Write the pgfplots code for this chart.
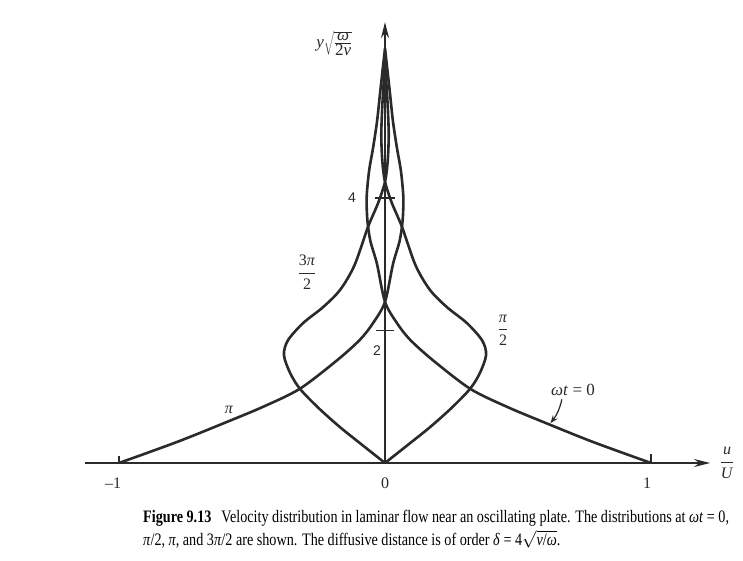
\documentclass[border=0pt]{standalone}
\usepackage{fontspec}
\setmainfont{Liberation Serif}
\newfontfamily\capfont{Liberation Serif}[FakeStretch=0.81]
\newfontfamily\labelsans{Liberation Sans}
\usepackage{pgfplots}
\pgfplotsset{compat=1.18}
\usetikzlibrary{arrows.meta}
\definecolor{ink}{HTML}{2A2A2A}

% Velocity profiles u/U of the flow near an oscillating plate
\pgfplotstableread{
x      y
1.000  0.00
0.780  0.32
0.594  0.62
0.457  0.85
0.320  1.12
0.180  1.55
0.094  1.86
0.045  2.11
0.000  2.43
-0.030 3.00
-0.055 3.35
-0.066 3.65
-0.069 4.00
-0.060 4.40
-0.045 4.75
-0.030 5.15
-0.018 5.60
-0.007 6.00
0.000  6.25
}\profzero
\pgfplotstableread{
x      y
-1.000 0.00
-0.780 0.32
-0.594 0.62
-0.457 0.85
-0.320 1.12
-0.180 1.55
-0.094 1.86
-0.045 2.11
0.000  2.43
0.030  3.00
0.055  3.35
0.066  3.65
0.069  4.00
0.060  4.40
0.045  4.75
0.030  5.15
0.018  5.60
0.007  6.00
0.000  6.25
}\profpi
\pgfplotstableread{
x      y
0.000  0.00
0.085  0.27
0.169  0.54
0.250  0.83
0.320  1.12
0.357  1.36
0.380  1.63
0.365  1.85
0.308  2.11
0.233  2.35
0.169  2.61
0.115  2.98
0.064  3.56
0.026  3.92
0.000  4.24
-0.010 4.55
-0.014 4.95
-0.010 5.40
-0.004 5.80
0.000  6.10
}\profhalfpi
\pgfplotstableread{
x      y
0.000  0.00
-0.085 0.27
-0.169 0.54
-0.250 0.83
-0.320 1.12
-0.357 1.36
-0.380 1.63
-0.365 1.85
-0.308 2.11
-0.233 2.35
-0.169 2.61
-0.115 2.98
-0.064 3.56
-0.026 3.92
0.000  4.24
0.010  4.55
0.014  4.95
0.010  5.40
0.004  5.80
0.000  6.10
}\profthreehalfpi

\begin{document}
\begin{tikzpicture}[x=1pt,y=1pt]
\useasboundingbox (0,0) rectangle (743,561);
\clip (0,0) rectangle (743,561);
\fill[white] (0,0) rectangle (743,561);
\begin{axis}[
  anchor=origin, at={(385pt,98pt)},
  x=266pt, y=66.3pt,
  xmin=-1.128, xmax=1.222, ymin=0, ymax=6.65,
  axis lines=middle,
  axis line style={ink, line width=1.8pt, -{Stealth[length=16pt,width=8pt]}},
  ticks=none,
  clip=false,
  profile/.style={ink, line width=2.6pt, smooth, no markers, line join=round},
]
\addplot[profile] table[x=x,y=y] {\profzero};
\addplot[profile] table[x=x,y=y] {\profpi};
\addplot[profile] table[x=x,y=y] {\profhalfpi};
\addplot[profile] table[x=x,y=y] {\profthreehalfpi};

% tick marks
\draw[ink, line width=1.6pt] (axis cs:-1,0) -- ++(0pt,7pt);
\draw[ink, line width=1.6pt] (axis cs:1,0) -- ++(0pt,9pt);
\draw[ink, line width=1.6pt] (axis cs:0,2) ++(-9pt,0pt) -- ++(18pt,0pt);
\draw[ink, line width=1.6pt] (axis cs:0,4) ++(-10pt,0pt) -- ++(20pt,0pt);

% tick labels
\node[font=\fontsize{16}{16}\selectfont, text=ink] at (axis cs:-1,0) [xshift=-6pt, yshift=-20pt] {\textendash1};
\node[font=\fontsize{16}{16}\selectfont, text=ink] at (axis cs:0,0) [yshift=-20pt] {0};
\node[font=\fontsize{16}{16}\selectfont, text=ink] at (axis cs:1,0) [xshift=-4pt, yshift=-20pt] {1};
\node[font=\labelsans\fontsize{14}{14}\selectfont, text=ink] at (axis cs:0,2) [xshift=-8pt, yshift=-20pt] {2};
\node[font=\labelsans\fontsize{14}{14}\selectfont, text=ink] at (axis cs:0,4) [xshift=-33pt] {4};

% curve labels
\node[font=\fontsize{16}{16}\selectfont, text=ink] at (axis cs:-0.586,0.80) {\textit{π}};
\node[font=\fontsize{16}{16}\selectfont, text=ink, inner sep=0pt] at (axis cs:-0.293,2.88)
  {$\displaystyle\frac{\hbox{3\textit{π}}}{\hbox{2}}$};
\node[font=\fontsize{16}{16}\selectfont, text=ink, inner sep=0pt] at (axis cs:0.444,2.0)
  {$\displaystyle\frac{\hbox{\textit{π}}}{\hbox{2}}$};
\node[font=\fontsize{17}{17}\selectfont, text=ink] at (axis cs:0.707,1.10) {\textit{ωt} = 0};
\draw[ink, line width=1.2pt, -{Stealth[length=8pt,width=6pt]}]
  (axis cs:0.665,0.96) to[bend left=12] (axis cs:0.622,0.60);

% axis labels
\node[font=\fontsize{17}{17}\selectfont, text=ink, inner sep=1pt] at (axis cs:-0.19,6.33)
  {\textit{y}$\sqrt{\frac{\hbox{\textit{ω}}}{\hbox{2\textit{ν}}}}$};
\node[font=\fontsize{16}{16}\selectfont, text=ink] at (axis cs:1.286,0)
  {$\displaystyle\frac{\hbox{\textit{u}}}{\hbox{\textit{U}}}$};
\end{axis}

% caption
\node[anchor=base west, inner sep=0pt, font=\capfont\fontsize{17.5}{19}\selectfont]
  at (143,38) {\textbf{Figure 9.13}\hspace{10pt}Velocity distribution in laminar flow near an oscillating plate. The distributions at \textit{ωt} = 0,};
\node[anchor=base west, inner sep=0pt, font=\capfont\fontsize{17.5}{19}\selectfont]
  at (143,15) {\textit{π}/2, \textit{π}, and 3\textit{π}/2 are shown. The diffusive distance is of order \textit{δ} = 4$\sqrt{\hbox{\textit{ν}/\textit{ω}}}$.};
\end{tikzpicture}
\end{document}
